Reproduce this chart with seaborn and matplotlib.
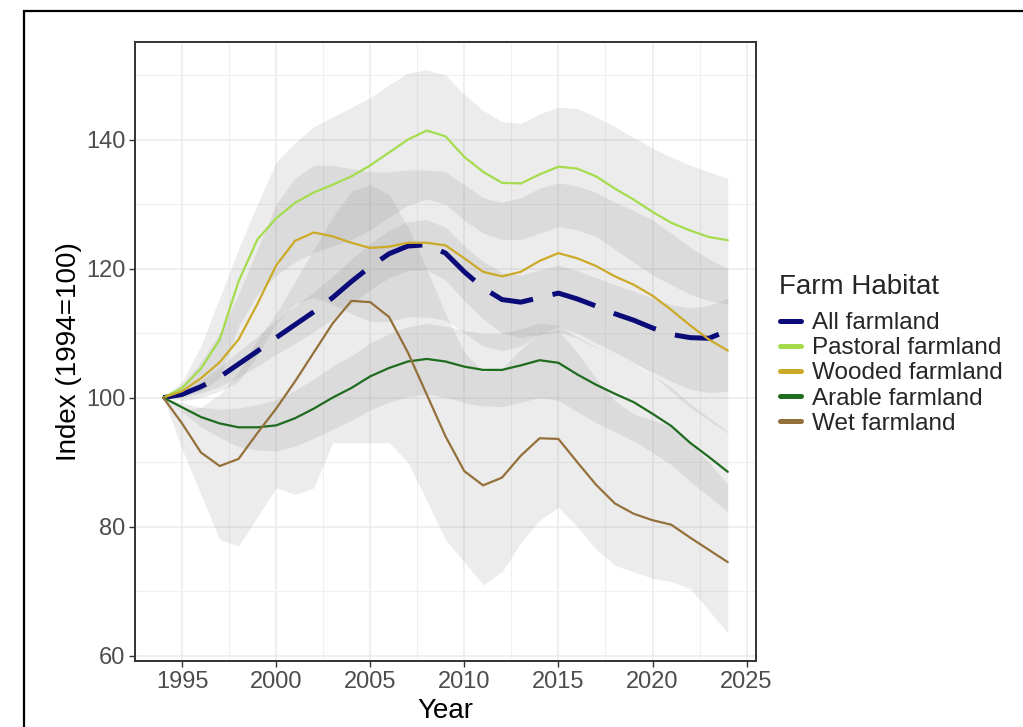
import numpy as np
import pandas as pd
import matplotlib
matplotlib.use('Agg')
import matplotlib.pyplot as plt
from matplotlib.lines import Line2D
from matplotlib.patches import Rectangle
import seaborn as sns

# Dados (índice 1994 = 100)
years = list(range(1994, 2025))

all_farmland = [100, 100.5, 101.7, 103.2, 105.2, 107.2, 109.3, 111.3, 113.3, 115.5, 118, 120.3, 122.3, 123.5, 123.7, 122.4,
                119.5, 117, 115.2, 114.8, 115.5, 116.2, 115.3, 114.2, 113, 112, 110.8, 109.8, 109.3, 109.2, 110.4]
pastoral = [100, 101.5, 104.5, 109, 118, 124.5, 127.8, 130.2, 131.8, 133, 134.3, 136, 138, 140, 141.4, 140.5,
            137.3, 135, 133.3, 133.2, 134.6, 135.8, 135.5, 134.3, 132.4, 130.7, 128.8, 127.1, 125.9, 124.9, 124.4]
wooded = [100, 101, 103, 105.5, 109, 114.5, 120.5, 124.3, 125.6, 125, 124, 123.2, 123.4, 124, 124, 123.6,
          121.6, 119.5, 118.8, 119.5, 121.2, 122.4, 121.6, 120.4, 118.8, 117.5, 115.8, 113.6, 111.2, 109, 107.3]
arable = [100, 98.5, 97, 96, 95.4, 95.4, 95.7, 96.8, 98.3, 100, 101.5, 103.3, 104.6, 105.6, 106, 105.6,
          104.8, 104.3, 104.3, 105, 105.8, 105.4, 103.6, 102, 100.6, 99.3, 97.5, 95.6, 93, 90.8, 88.5]
wet = [100, 96, 91.5, 89.4, 90.5, 94.5, 98.3, 102.5, 107, 111.5, 115, 114.8, 112.5, 107, 100.5, 94,
       88.6, 86.4, 87.6, 91, 93.7, 93.6, 90, 86.5, 83.6, 82, 81, 80.3, 78.3, 76.4, 74.5]

# Intervalos de confiança (faixas cinzentas)
all_hi = [100, 101, 102.7, 104.7, 107.2, 109.5, 111.9, 114.2, 116.4, 118.8, 121.5, 123.9, 126, 127.3, 127.6, 126.4,
          123.5, 121.1, 119.4, 119, 119.8, 120.5, 119.7, 118.6, 117.5, 116.5, 115.4, 114.4, 113.9, 114.3, 115.4]
all_lo = [100, 100, 100.7, 101.7, 103.2, 104.9, 106.7, 108.4, 110.2, 112.2, 114.5, 116.7, 118.6, 119.7, 119.8, 118.2,
          115, 112.2, 110, 109.3, 109.8, 110.2, 109.2, 107.8, 106.5, 105.3, 104, 102.5, 101.3, 100.8, 101]
pastoral_hi = [100, 102.5, 108, 115.5, 123, 130, 136.5, 139.5, 142, 143.5, 145, 146.5, 148.5, 150.3, 150.8, 150,
               147, 144.5, 142.8, 142.5, 144, 145, 144.8, 143.5, 142, 140.3, 138.7, 137.3, 136, 135, 134]
pastoral_lo = [100, 100.5, 101, 103, 111, 116, 119, 121, 122.5, 123.5, 124.5, 126, 128, 129.8, 130.8, 130,
               127.5, 125.5, 124.5, 124.5, 125.5, 126.5, 126, 125, 123, 121, 119, 117.5, 116, 115, 114.5]
wooded_hi = [100, 102, 105.5, 110, 116, 123, 130, 134, 136, 136, 135.5, 135, 135, 135.3, 135.3, 135,
             133, 131, 130.3, 131, 132.5, 133.3, 132.8, 131.8, 130.3, 129, 127.5, 125.5, 123.3, 121.5, 120]
wooded_lo = [100, 99.5, 100, 101, 102.5, 106.5, 111.5, 114.5, 115.5, 114.5, 113, 111.8, 111.8, 112.5, 112.5, 112,
             110, 108, 107.3, 108, 109.8, 111, 110, 108.5, 107, 105.5, 103.5, 101, 98.5, 96.5, 94.5]
arable_hi = [100, 99.2, 98.5, 98.2, 98.4, 98.9, 99.7, 101.1, 102.9, 104.9, 106.5, 108.5, 109.9, 111, 111.5, 111.1,
             110.4, 109.9, 110, 110.7, 111.6, 111.2, 109.4, 107.9, 106.5, 105.3, 103.5, 101.6, 99, 96.9, 94.7]
arable_lo = [100, 97.8, 95.5, 93.8, 92.4, 91.9, 91.7, 92.5, 93.7, 95.1, 96.5, 98.1, 99.3, 100.2, 100.5, 100.1,
             99.2, 98.7, 98.6, 99.3, 100, 99.6, 97.8, 96.1, 94.7, 93.3, 91.5, 89.6, 87, 84.7, 82.3]
wet_hi = [100, 98, 98.5, 100.5, 104, 109, 113, 118, 123, 128, 132, 133, 131.5, 126.5, 120, 113,
          107, 104, 104.5, 107.5, 110, 110.5, 107, 103, 99.5, 97.5, 96.5, 95.5, 93, 90, 86.5]
wet_lo = [100, 92, 85, 78, 77, 81.5, 86, 85, 86, 93, 93, 93, 93, 90, 84, 78,
          74.5, 71, 73, 77.5, 81, 83, 80, 76.5, 74, 73, 72, 71.5, 70.4, 67, 63.5]

habitats = ['All farmland', 'Pastoral farmland', 'Wooded farmland', 'Arable farmland', 'Wet farmland']
cores = ['#0A0A78', '#A5DC4E', '#CCAA28', '#1F6B1F', '#94703A']

series = [all_farmland, pastoral, wooded, arable, wet]
lows = [all_lo, pastoral_lo, wooded_lo, arable_lo, wet_lo]
highs = [all_hi, pastoral_hi, wooded_hi, arable_hi, wet_hi]

df = pd.DataFrame({'Year': years * 5,
                   'Index': sum(series, []),
                   'Habitat': sum([[h] * len(years) for h in habitats], [])})

sns.set_theme(style='whitegrid')
plt.rcParams['font.family'] = ['Liberation Sans', 'DejaVu Sans']

fig = plt.figure(figsize=(10.23, 7.27), dpi=100)
ax = fig.add_axes([0.132, 0.091, 0.607, 0.851])

# faixas cinzentas
for lo, hi in zip(lows, highs):
    ax.fill_between(years, lo, hi, color='#808080', alpha=0.15, lw=0, zorder=1)

# linhas
sns.lineplot(data=df, x='Year', y='Index', hue='Habitat', style='Habitat',
             hue_order=habitats, palette=cores,
             dashes={'All farmland': (9, 4), 'Pastoral farmland': '', 'Wooded farmland': '',
                     'Arable farmland': '', 'Wet farmland': ''},
             legend=False, ax=ax, zorder=3)
for ln, h in zip(ax.lines, habitats):
    ln.set_linewidth(3.6 if h == 'All farmland' else 1.6)
    if h == 'All farmland':
        ln.set_zorder(2.5)

ax.set_xlim(1992.5, 2025.5)
ax.set_ylim(59.2, 155.1)
ax.set_xticks(range(1995, 2026, 5))
ax.set_yticks([60, 80, 100, 120, 140])
ax.set_xticks(np.arange(1992.5, 2025.6, 2.5), minor=True)
ax.set_yticks([70, 90, 110, 130, 150], minor=True)
ax.grid(which='major', color='#EBEBEB', lw=1.1)
ax.grid(which='minor', color='#F0F0F0', lw=0.8)
ax.set_axisbelow(True)
for s in ax.spines.values():
    s.set_color('#333333')
    s.set_linewidth(1.4)
ax.tick_params(which='major', length=4, width=1, color='#333333', labelsize=17,
               labelcolor='#4D4D4D', pad=3, bottom=True, left=True)
ax.tick_params(which='minor', length=0)
ax.set_xlabel('Year', fontsize=20, color='black', labelpad=4)
ax.set_ylabel('Index (1994=100)', fontsize=20, color='black', labelpad=3)

# legenda
fig.text(779 / 1023, 1 - 287 / 727, 'Farm Habitat', fontsize=20, ha='left', va='center')
handles = [Line2D([], [], color=c, lw=3.6) for c in cores]
leg = fig.legend(handles, habitats, loc='upper left',
                 bbox_to_anchor=(0.762, 1 - 312 / 727), frameon=False, fontsize=17.5,
                 handlelength=0.9, handletextpad=0.45,
                 labelspacing=0.13, borderpad=0, borderaxespad=0)

# moldura externa
fig.patches.append(Rectangle((24 / 1023, -0.1), 1.2, 1.1 - 11 / 727,
                             transform=fig.transFigure, fill=False,
                             edgecolor='black', lw=1.6, zorder=10))

fig.savefig('out.png', dpi=100)
